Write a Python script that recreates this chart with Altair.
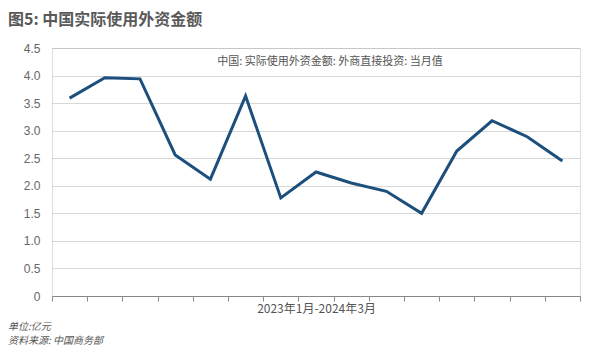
import altair as alt
import pandas as pd

months = ["2023-01", "2023-02", "2023-03", "2023-04", "2023-05", "2023-06", "2023-07",
          "2023-08", "2023-09", "2023-10", "2023-11", "2023-12", "2024-01", "2024-02", "2024-03"]
values = [3.59, 3.96, 3.94, 2.56, 2.12, 3.63, 1.78, 2.25, 2.05, 1.90, 1.50, 2.63, 3.18, 2.89, 2.45]
y_ticks = [0, 0.5, 1.0, 1.5, 2.0, 2.5, 3.0, 3.5, 4.0, 4.5]

df = pd.DataFrame({"month": months, "idx": list(range(1, len(months) + 1)), "value": values})
x_ticks = [i + 0.5 for i in range(0, len(months) + 1)]

FONT = "Noto Sans CJK SC"
NUMFONT = "Liberation Sans"

base = alt.Chart(df)

line = base.mark_line(color="#1c4f7c", strokeWidth=3).encode(
    x=alt.X("idx:Q", scale=alt.Scale(domain=[0.5, len(months) + 0.5], nice=False, zero=False),
            axis=alt.Axis(values=x_ticks, labels=False, title="2023年1月-2024年3月",
                          titleFont=FONT, titleFontSize=12, titleFontWeight="normal",
                          titleColor="#555555", titlePadding=2,
                          domainColor="#888888", tickColor="#888888", tickSize=5,
                          grid=False)),
    y=alt.Y("value:Q", scale=alt.Scale(domain=[0, 4.5], nice=False),
            axis=alt.Axis(values=y_ticks, title=None, domain=False, ticks=False,
                          labelExpr="datum.value == 0 ? '0' : format(datum.value, '.1f')",
                          labelFont=NUMFONT, labelFontSize=12, labelColor="#666666",
                          labelPadding=12,
                          gridColor="#b0b0b0", gridDash=[1, 1], gridWidth=1)),
)

legend = alt.Chart(pd.DataFrame({"t": ["中国: 实际使用外资金额: 外商直接投资: 当月值"]})).mark_text(
    font=FONT, fontSize=11, color="#555555", align="center", baseline="middle"
).encode(text="t:N", x=alt.value(278), y=alt.value(14))

footer = alt.Chart(pd.DataFrame({"t": ["单位:亿元", "资料来源: 中国商务部"], "dy": [279, 293]})).mark_text(
    font=FONT, fontSize=10, color="#555555", align="left", baseline="middle", fontStyle="italic"
).encode(text="t:N", x=alt.value(-44), y=alt.Y("dy:Q", scale=None, axis=None))

chart = alt.layer(line, legend, footer).properties(
    width=528, height=248,
    title=alt.TitleParams("图5: 中国实际使用外资金额", anchor="start", font=FONT, fontSize=16,
                          fontWeight="bold", color="#595959", offset=14),
    autosize=alt.AutoSizeParams(type="none"),
    padding={"left": 52, "top": 48, "right": 20, "bottom": 57},
).configure_view(stroke=None).configure(background="white")

chart.save("out.html", embed_options={"renderer": "svg", "actions": False})
